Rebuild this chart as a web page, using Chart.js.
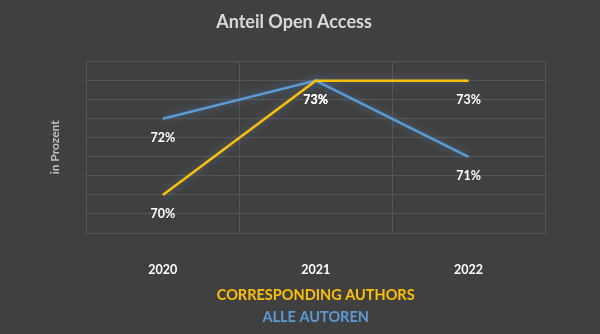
<!DOCTYPE html>
<html>
<head>
<meta charset="utf-8">
<script src="https://cdn.jsdelivr.net/npm/chart.js@4/dist/chart.umd.min.js"></script>
<style>
  html, body { margin: 0; padding: 0; background: #404040; }
  #wrap { width: 600px; height: 334px; }
</style>
</head>
<body>
<div id="wrap"><canvas id="c" width="600" height="334"></canvas></div>
<script>
// Open-access share per year (percent)
const years = ['2020', '2021', '2022'];
const correspondingAuthors = [70, 73, 73];
const alleAutoren = [72, 73, 71];
const seriesNames = ['CORRESPONDING AUTHORS', 'ALLE AUTOREN'];

const YELLOW = '#FFC000';
const BLUE = '#5B9BD5';
const FONT = 'Lato, "Noto Sans", sans-serif';

// Soft glow behind each line
const glowPlugin = {
  id: 'glow',
  beforeDatasetDraw(chart) {
    const ctx = chart.ctx;
    ctx.save();
    ctx.shadowColor = 'rgba(91,155,213,0.55)';
    ctx.shadowBlur = 8;
  },
  afterDatasetDraw(chart) {
    chart.ctx.restore();
  }
};

// Percentage labels below each point
const valueLabels = {
  id: 'valueLabels',
  afterDatasetsDraw(chart) {
    const ctx = chart.ctx;
    ctx.save();
    ctx.font = 'bold 12.5px ' + FONT;
    ctx.fillStyle = '#FFFFFF';
    ctx.textAlign = 'center';
    ctx.textBaseline = 'middle';
    chart.data.datasets.forEach((ds, i) => {
      chart.getDatasetMeta(i).data.forEach((pt, j) => {
        ctx.fillText(ds.data[j] + '%', pt.x, pt.y + 19.5);
      });
    });
    ctx.restore();
  }
};

// Text-only legend, one series per row, in series colour
const textLegend = {
  id: 'textLegend',
  afterDraw(chart) {
    const ctx = chart.ctx;
    const a = chart.chartArea;
    const cx = (a.left + a.right) / 2;
    ctx.save();
    ctx.font = 'bold 14.5px ' + FONT;
    ctx.textAlign = 'center';
    ctx.textBaseline = 'middle';
    chart.data.datasets.forEach((ds, i) => {
      ctx.fillStyle = ds.borderColor;
      ctx.fillText(ds.label, cx, a.bottom + 62 + i * 22);
    });
    ctx.restore();
  }
};

new Chart(document.getElementById('c'), {
  type: 'line',
  data: {
    labels: years,
    datasets: [
      {
        label: seriesNames[0],
        data: correspondingAuthors,
        borderColor: YELLOW,
        backgroundColor: YELLOW,
        borderWidth: 2.5,
        pointRadius: 0,
        tension: 0
      },
      {
        label: seriesNames[1],
        data: alleAutoren,
        borderColor: BLUE,
        backgroundColor: BLUE,
        borderWidth: 2.5,
        pointRadius: 0,
        tension: 0
      }
    ]
  },
  options: {
    responsive: false,
    animation: false,
    layout: { padding: { left: 43, right: 55, top: 0, bottom: 28 } },
    plugins: {
      legend: { display: false },
      tooltip: { enabled: false },
      title: {
        display: true,
        text: 'Anteil Open Access',
        color: '#D9D9D9',
        font: { family: FONT, size: 18, weight: 'bold' },
        padding: { top: 11, bottom: 29 }
      }
    },
    scales: {
      x: {
        offset: true,
        grid: { color: '#555555', offset: true, drawTicks: false },
        border: { color: '#555555' },
        ticks: {
          color: '#FFFFFF',
          padding: 29,
          font: { family: FONT, size: 12.5, weight: 'bold' }
        }
      },
      y: {
        min: 69,
        max: 73.5,
        grid: { color: '#555555', drawTicks: false },
        border: { display: false },
        ticks: { display: false, stepSize: 0.5 },
        title: {
          display: true,
          text: 'in Prozent',
          color: '#BFBFBF',
          font: { family: FONT, size: 12, weight: 'bold' },
          padding: { top: 5, bottom: 24 }
        }
      }
    }
  },
  plugins: [glowPlugin, valueLabels, textLegend]
});
</script>
</body>
</html>
